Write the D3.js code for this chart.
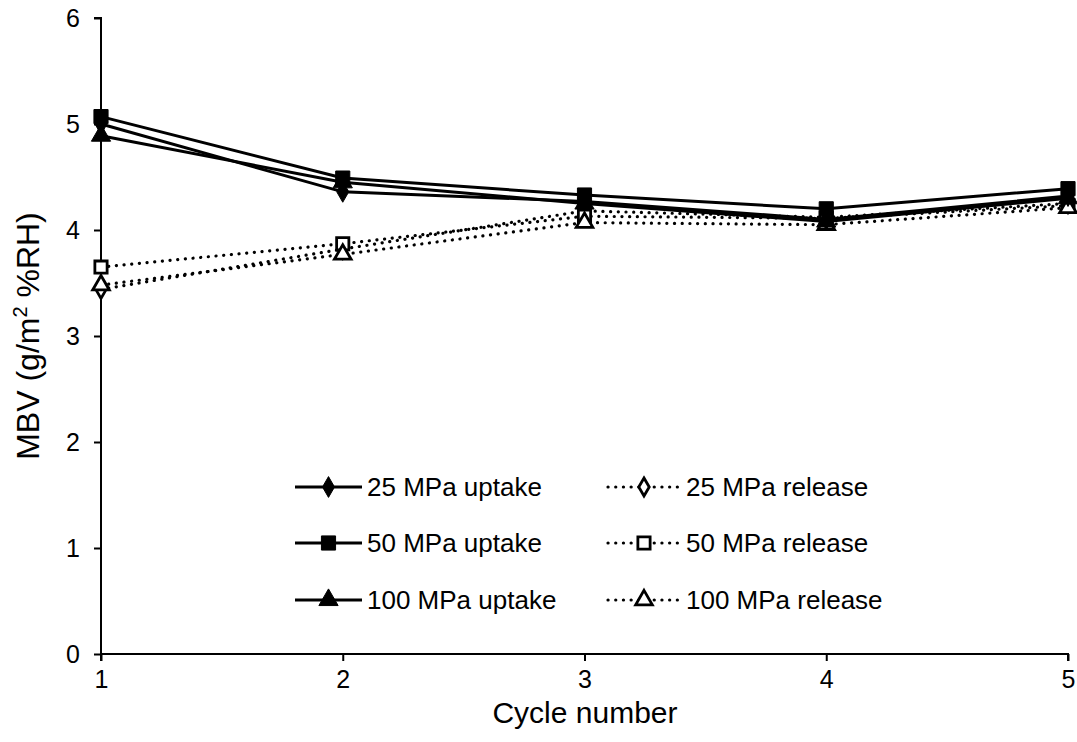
<!DOCTYPE html>
<html><head><meta charset="utf-8">
<script src="https://cdn.jsdelivr.net/npm/d3@7"></script>
<style>body{margin:0;background:#fff}svg{display:block;font-family:"Liberation Sans",Arial,sans-serif}</style>
</head><body>
<svg id="c" width="1077" height="742"></svg>
<script>
const cycles = [1, 2, 3, 4, 5];
const yTicks = [0, 1, 2, 3, 4, 5, 6];
const up25 = [5.00, 4.36, 4.27, 4.10, 4.32];
const up50 = [5.07, 4.49, 4.33, 4.20, 4.39];
const up100 = [4.89, 4.45, 4.25, 4.08, 4.30];
const rel25 = [3.44, 3.82, 4.18, 4.12, 4.25];
const rel50 = [3.65, 3.87, 4.13, 4.11, 4.23];
const rel100 = [3.48, 3.77, 4.07, 4.05, 4.21];
const seriesNames = ["25 MPa uptake","50 MPa uptake","100 MPa uptake","25 MPa release","50 MPa release","100 MPa release"];

const series = [
  {name: seriesNames[0], vals: up25, sym: d3.symbolDiamond, fill: "#000", dotted: false},
  {name: seriesNames[1], vals: up50, sym: d3.symbolSquare, fill: "#000", dotted: false},
  {name: seriesNames[2], vals: up100, sym: d3.symbolTriangle, fill: "#000", dotted: false},
  {name: seriesNames[3], vals: rel25, sym: d3.symbolDiamond, fill: "#fff", dotted: true},
  {name: seriesNames[4], vals: rel50, sym: d3.symbolSquare, fill: "#fff", dotted: true},
  {name: seriesNames[5], vals: rel100, sym: d3.symbolTriangle, fill: "#fff", dotted: true}
];

const svg = d3.select("#c");
const L = 101, R = 1068, T = 18, B = 654;
const x = d3.scaleLinear().domain([1, 5]).range([L, R]);
const y = d3.scaleLinear().domain([0, 6]).range([B, T]);
const FONT = '"Liberation Sans",Arial,sans-serif';

function symSize(s, hollow){
  if (s === d3.symbolSquare) return hollow ? 150 : 200;
  if (s === d3.symbolDiamond) return hollow ? 95 : 125;
  return hollow ? 120 : 160;
}

// axes
const yAxis = d3.axisLeft(y).tickValues(yTicks).tickSize(7).tickFormat(d3.format("d"));
const gy = svg.append("g").attr("transform", `translate(${L},0)`).call(yAxis);
const xAxis = d3.axisBottom(x).tickValues(cycles).tickSize(7).tickFormat(d3.format("d"));
const gx = svg.append("g").attr("transform", `translate(0,${B})`).call(xAxis);
[gy, gx].forEach(g => {
  g.select(".domain").attr("stroke", "#000").attr("stroke-width", 2);
  g.selectAll(".tick line").attr("stroke", "#000").attr("stroke-width", 2);
  g.selectAll(".tick text").attr("fill", "#000").attr("font-size", 25).attr("font-family", FONT);
});
gy.select(".domain").attr("d", `M-7,${T}H0V${B}`);
gx.select(".domain").attr("d", `M${L},7V0H${R}V7`);
gy.selectAll(".tick text").attr("x", -21).attr("dy", "0.35em");
gx.selectAll(".tick text").attr("y", 16);

svg.append("text").attr("x", 585).attr("y", 723).attr("text-anchor", "middle")
  .attr("font-size", 30).text("Cycle number");
const yt = svg.append("text").attr("transform", `translate(39,${(T+B)/2}) rotate(-90)`)
  .attr("text-anchor", "middle").attr("font-size", 32);
yt.append("tspan").text("MBV (g/m");
yt.append("tspan").attr("font-size", 20).attr("dy", -12).text("2");
yt.append("tspan").attr("dy", 12).text(" %RH)");

const line = d3.line().x((d, i) => x(cycles[i])).y(d => y(d));

// lines: release first then uptake
const order = [3, 4, 5, 0, 1, 2];
order.forEach(k => {
  const s = series[k];
  svg.append("path").attr("d", line(s.vals)).attr("fill", "none").attr("stroke", "#000")
    .attr("stroke-width", s.dotted ? 3.2 : 3)
    .attr("stroke-dasharray", s.dotted ? "0.1,7.6" : null)
    .attr("stroke-linecap", s.dotted ? "round" : "butt");
});
order.forEach(k => {
  const s = series[k];
  const hollow = s.fill === "#fff";
  svg.append("g").selectAll("path").data(s.vals).join("path")
    .attr("transform", (d, i) => `translate(${x(cycles[i])},${y(d)})`)
    .attr("d", d3.symbol().type(s.sym).size(symSize(s.sym, hollow)))
    .attr("fill", s.fill).attr("stroke", "#000").attr("stroke-width", hollow ? 2.8 : 1);
});

// legend
const rows = [487, 543, 600];
series.forEach((s, k) => {
  const col = k < 3 ? 0 : 1;
  const r = rows[k % 3];
  const x0 = col === 0 ? 295 : 608, x1 = col === 0 ? 362 : 680;
  const mx = (x0 + x1) / 2;
  const hollow = s.fill === "#fff";
  svg.append("line").attr("x1", x0).attr("x2", x1).attr("y1", r).attr("y2", r)
    .attr("stroke", "#000").attr("stroke-width", s.dotted ? 3.2 : 3)
    .attr("stroke-dasharray", s.dotted ? "0.1,7.6" : null)
    .attr("stroke-linecap", s.dotted ? "round" : "butt");
  svg.append("path").attr("transform", `translate(${mx},${r})`)
    .attr("d", d3.symbol().type(s.sym).size(symSize(s.sym, hollow)))
    .attr("fill", s.fill).attr("stroke", "#000").attr("stroke-width", hollow ? 2.8 : 1);
  svg.append("text").attr("x", col === 0 ? 367 : 686).attr("y", r + 9)
    .attr("font-size", 26).text(s.name);
});
</script>
</body></html>
